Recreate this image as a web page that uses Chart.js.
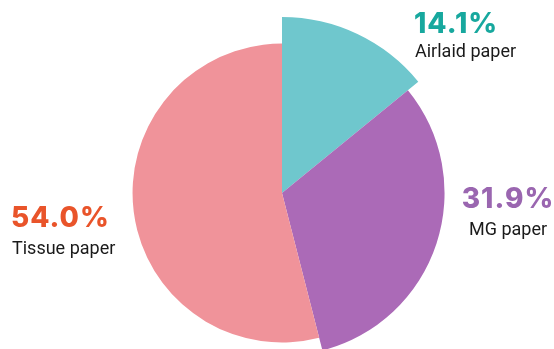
<!DOCTYPE html>
<html>
<head>
<meta charset="utf-8">
<script src="https://cdn.jsdelivr.net/npm/chart.js@4/dist/chart.umd.min.js"></script>
<style>
  html, body { margin: 0; padding: 0; background: #ffffff; }
  #wrap { width: 554px; height: 349px; position: relative; }
</style>
</head>
<body>
<div id="wrap"><canvas id="c" width="554" height="349"></canvas></div>
<script>
// Paper grades and their share of production (%)
const categories = ['Airlaid paper', 'MG paper', 'Tissue paper'];
const shares = [14.1, 31.9, 54.0];

// Slice styling
const sliceColors = ['#6fc7cd', '#ab6ab7', '#f0939a'];
const valueColors = ['#17a89e', '#9a66b0', '#e9542a'];
const sliceRadiusScale = [1.128, 1.042, 0.958];

// Where each label block sits: x, baseline of value, baseline of name, alignment
const labelPlacement = [
  { x: 414, valueY: 33, nameY: 57, align: 'left' },
  { x: 508, valueY: 208, nameY: 235, align: 'center' },
  { x: 11, valueY: 227, nameY: 254, align: 'left' }
];

const sliceRadii = {
  id: 'sliceRadii',
  afterDatasetsUpdate(chart) {
    const meta = chart.getDatasetMeta(0);
    meta.data.forEach((arc, i) => {
      arc.outerRadius = arc.outerRadius * sliceRadiusScale[i];
    });
  }
};

const sliceLabels = {
  id: 'sliceLabels',
  afterDraw(chart) {
    const ctx = chart.ctx;
    ctx.save();
    ctx.textBaseline = 'alphabetic';
    categories.forEach((name, i) => {
      const p = labelPlacement[i];
      ctx.textAlign = p.align;
      ctx.fillStyle = valueColors[i];
      ctx.font = '800 28px Inter';
      ctx.letterSpacing = '1px';
      ctx.fillText(shares[i].toFixed(1) + '%', p.x, p.valueY);
      ctx.letterSpacing = '0px';
      ctx.fillStyle = '#1a1a1a';
      ctx.font = '18px Roboto';
      ctx.fillText(name, p.x + (p.align === 'left' ? 1 : 0), p.nameY);
    });
    ctx.restore();
  }
};

new Chart(document.getElementById('c'), {
  type: 'pie',
  data: {
    labels: categories,
    datasets: [{
      data: shares,
      backgroundColor: sliceColors,
      borderWidth: 0
    }]
  },
  options: {
    responsive: false,
    animation: false,
    events: [],
    layout: { padding: { top: 37, bottom: 0, left: 10, right: 0 } },
    plugins: {
      legend: { display: false },
      tooltip: { enabled: false }
    }
  },
  plugins: [sliceRadii, sliceLabels]
});
</script>
</body>
</html>
